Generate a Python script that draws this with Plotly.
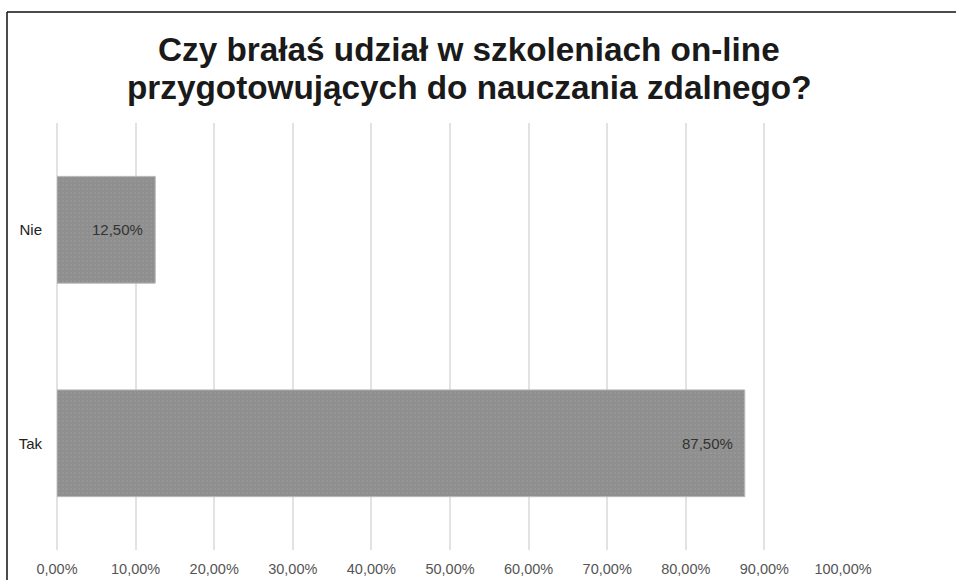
import plotly.graph_objects as go

categories = ["Tak", "Nie"]
values = [87.5, 12.5]
value_labels = ["87,50%", "12,50%"]
tick_vals = [0, 10, 20, 30, 40, 50, 60, 70, 80, 90, 100]
tick_text = ["0,00%", "10,00%", "20,00%", "30,00%", "40,00%", "50,00%",
             "60,00%", "70,00%", "80,00%", "90,00%", "100,00%"]
title_lines = ["Czy brałaś udział w szkoleniach on-line",
               "przygotowujących do nauczania zdalnego?"]

FONT = "Liberation Sans, Arial, sans-serif"
W, H = 956, 580
ml, mr, mt, mb = 57, 113, 123, 30
pw = W - ml - mr
ph = H - mt - mb


def px_to_paper_x(px):
    return (px - ml) / pw


def px_to_paper_y(py):
    return (H - mb - py) / ph


fig = go.Figure()
fig.add_trace(go.Bar(
    y=categories, x=values, orientation="h",
    marker=dict(color="#8f8f8f", line=dict(color="#b8b8b8", width=1),
                pattern=dict(shape=".", fgcolor="#a8a8a8", bgcolor="#8f8f8f", size=4, solidity=0.15)),
    width=0.5, hoverinfo="skip",
))

annotations = []
for cat, val, lab in zip(categories, values, value_labels):
    annotations.append(dict(x=val, y=cat, xref="x", yref="y", text=lab, showarrow=False,
                            xanchor="right", yanchor="middle", xshift=-10,
                            font=dict(family=FONT, size=15, color="#333333")))

title_baselines = [60, 98]
for line, base in zip(title_lines, title_baselines):
    annotations.append(dict(x=px_to_paper_x(469), y=px_to_paper_y(base), xref="paper", yref="paper",
                            text="<b>" + line + "</b>", showarrow=False,
                            xanchor="center", yanchor="bottom", yshift=-10,
                            font=dict(family=FONT, size=33.3, color="#1a1a1a")))

fig.update_layout(
    width=W, height=H,
    margin=dict(l=ml, r=mr, t=mt, b=mb),
    paper_bgcolor="#ffffff", plot_bgcolor="#ffffff",
    showlegend=False,
    xaxis=dict(range=[0, 100], tickvals=tick_vals, ticktext=tick_text,
               showgrid=True, gridcolor="#e2e2e2", gridwidth=1.5,
               zeroline=True, zerolinecolor="#e2e2e2", zerolinewidth=1.5,
               showline=False, ticks="", ticklabelstandoff=8, automargin=False,
               tickfont=dict(family=FONT, size=14.5, color="#555555")),
    yaxis=dict(showgrid=False, zeroline=False, showline=False, ticks="",
               ticklabelstandoff=14, automargin=False,
               tickfont=dict(family=FONT, size=15, color="#222222")),
    annotations=annotations,
    shapes=[
        dict(type="line", xref="paper", yref="paper",
             x0=px_to_paper_x(7), x1=px_to_paper_x(W + 5),
             y0=px_to_paper_y(12), y1=px_to_paper_y(12),
             line=dict(color="#111111", width=1.5)),
        dict(type="line", xref="paper", yref="paper",
             x0=px_to_paper_x(7), x1=px_to_paper_x(7),
             y0=px_to_paper_y(12), y1=px_to_paper_y(H + 5),
             line=dict(color="#111111", width=1.5)),
    ],
)

fig.write_html("out.html", config={"displayModeBar": False},
               post_script="document.body.style.margin='0';")
